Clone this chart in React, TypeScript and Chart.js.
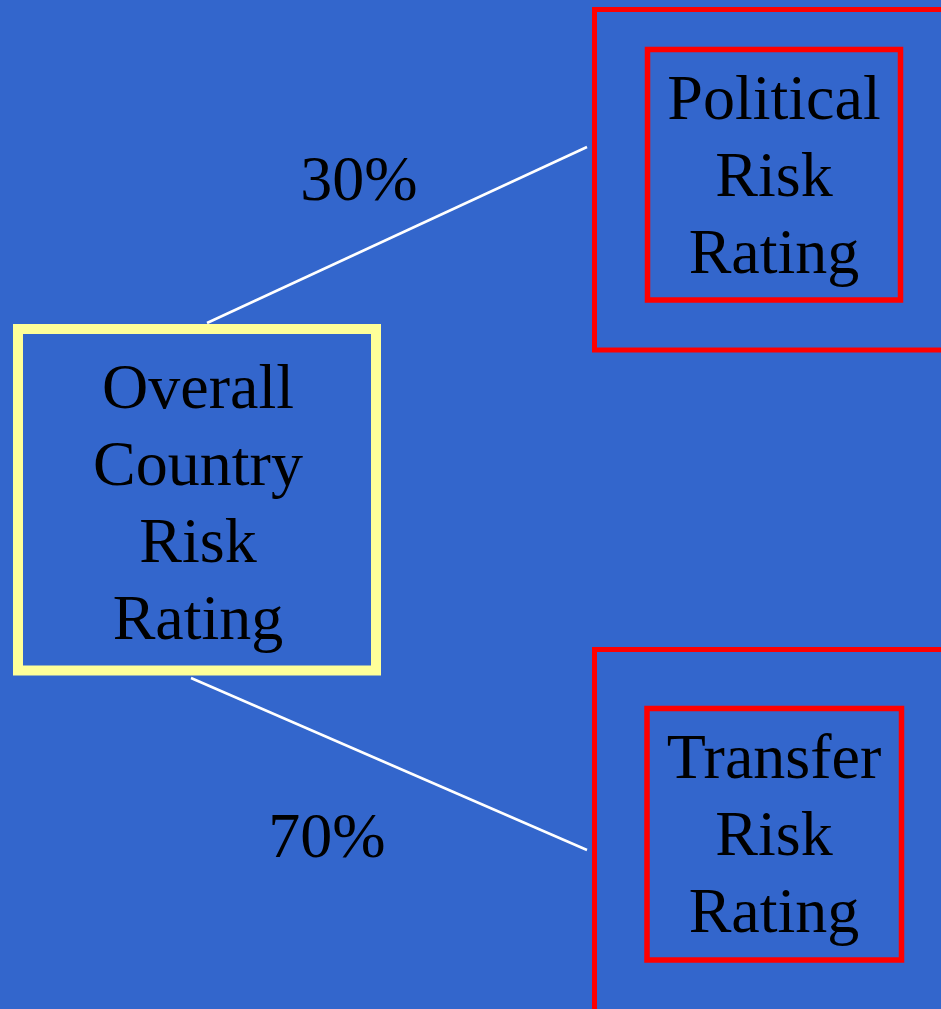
import React, { useEffect, useRef } from "react";
import { Chart, registerables } from "chart.js";

Chart.register(...registerables);

// Node labels (lines of text)
const overallLabel = ["Overall", "Country", "Risk", "Rating"];
const politicalLabel = ["Political", "Risk", "Rating"];
const transferLabel = ["Transfer", "Risk", "Rating"];

// Weights on the branches
const weightLabels = ["30%", "70%"];

// Diagram geometry in data units (x: 0..941, y: 0..1009, top-down)
const overallBox = [18, 329, 376, 670.5]; // x1, y1, x2, y2
const politicalOuter = [594.5, 9.5, 960, 350];
const politicalInner = [647.5, 49.5, 900.5, 300];
const transferOuter = [594.5, 649.5, 960, 1040];
const transferInner = [647, 708.5, 901.5, 960];
const branchTop = [{ x: 207, y: 323 }, { x: 587, y: 147 }];
const branchBottom = [{ x: 191, y: 678 }, { x: 587, y: 850 }];

// Label anchors: [centerX, firstBaseline]
const overallText = [198, 408];
const politicalText = [774, 119];
const transferText = [774, 778];
const weightText = [[359, 200], [327, 857]];
const lineStep = 77;

const rect = (b: number[]) => [
  { x: b[0], y: b[1] },
  { x: b[2], y: b[1] },
  { x: b[2], y: b[3] },
  { x: b[0], y: b[3] },
  { x: b[0], y: b[1] },
  { x: b[2], y: b[1] },
];

const BG = "#3366CC";

export default function App() {
  const ref = useRef<HTMLCanvasElement | null>(null);

  useEffect(() => {
    document.body.style.margin = "0";
    const canvas = ref.current!;
    const lineDs = (data: any[], color: string, width: number) => ({
      data,
      showLine: true,
      borderColor: color,
      backgroundColor: color,
      borderWidth: width,
      pointRadius: 0,
      borderJoinStyle: "miter" as const,
      borderCapStyle: "butt" as const,
      tension: 0,
      fill: false,
    });

    const textPlugin = {
      id: "texts",
      beforeDraw(chart: any) {
        const c = chart.ctx;
        c.save();
        c.fillStyle = BG;
        c.fillRect(0, 0, chart.width, chart.height);
        c.restore();
      },
      afterDatasetsDraw(chart: any) {
        const c = chart.ctx;
        const xs = chart.scales.x;
        const ys = chart.scales.y;
        c.save();
        c.fillStyle = "#000000";
        c.font = "64px 'Liberation Serif', 'Times New Roman', serif";
        c.textAlign = "center";
        c.textBaseline = "alphabetic";
        const draw = (lines: string[], anchor: number[]) => {
          lines.forEach((t, i) => {
            c.fillText(
              t,
              xs.getPixelForValue(anchor[0]),
              ys.getPixelForValue(anchor[1] + i * lineStep)
            );
          });
        };
        draw(overallLabel, overallText);
        draw(politicalLabel, politicalText);
        draw(transferLabel, transferText);
        weightLabels.forEach((w, i) => draw([w], weightText[i]));
        c.restore();
      },
    };

    const chart = new Chart(canvas, {
      type: "scatter",
      data: {
        datasets: [
          lineDs(branchTop, "#FFFFFF", 2.5),
          lineDs(branchBottom, "#FFFFFF", 2.5),
          lineDs(rect(overallBox), "#FFFF99", 10),
          lineDs(rect(politicalOuter), "#FF0000", 5),
          lineDs(rect(politicalInner), "#FF0000", 5.5),
          lineDs(rect(transferOuter), "#FF0000", 5),
          lineDs(rect(transferInner), "#FF0000", 5.5),
        ],
      },
      options: {
        responsive: false,
        animation: false,
        layout: { padding: 0 },
        plugins: {
          legend: { display: false },
          tooltip: { enabled: false },
          title: { display: false },
        },
        events: [],
        scales: {
          x: { type: "linear", min: 0, max: 941, display: false },
          y: { type: "linear", min: 0, max: 1009, reverse: true, display: false },
        },
      },
      plugins: [textPlugin],
    });
    return () => chart.destroy();
  }, []);

  return (
    <div style={{ width: 941, height: 1009, background: BG }}>
      <canvas ref={ref} width={941} height={1009} style={{ display: "block" }} />
    </div>
  );
}
